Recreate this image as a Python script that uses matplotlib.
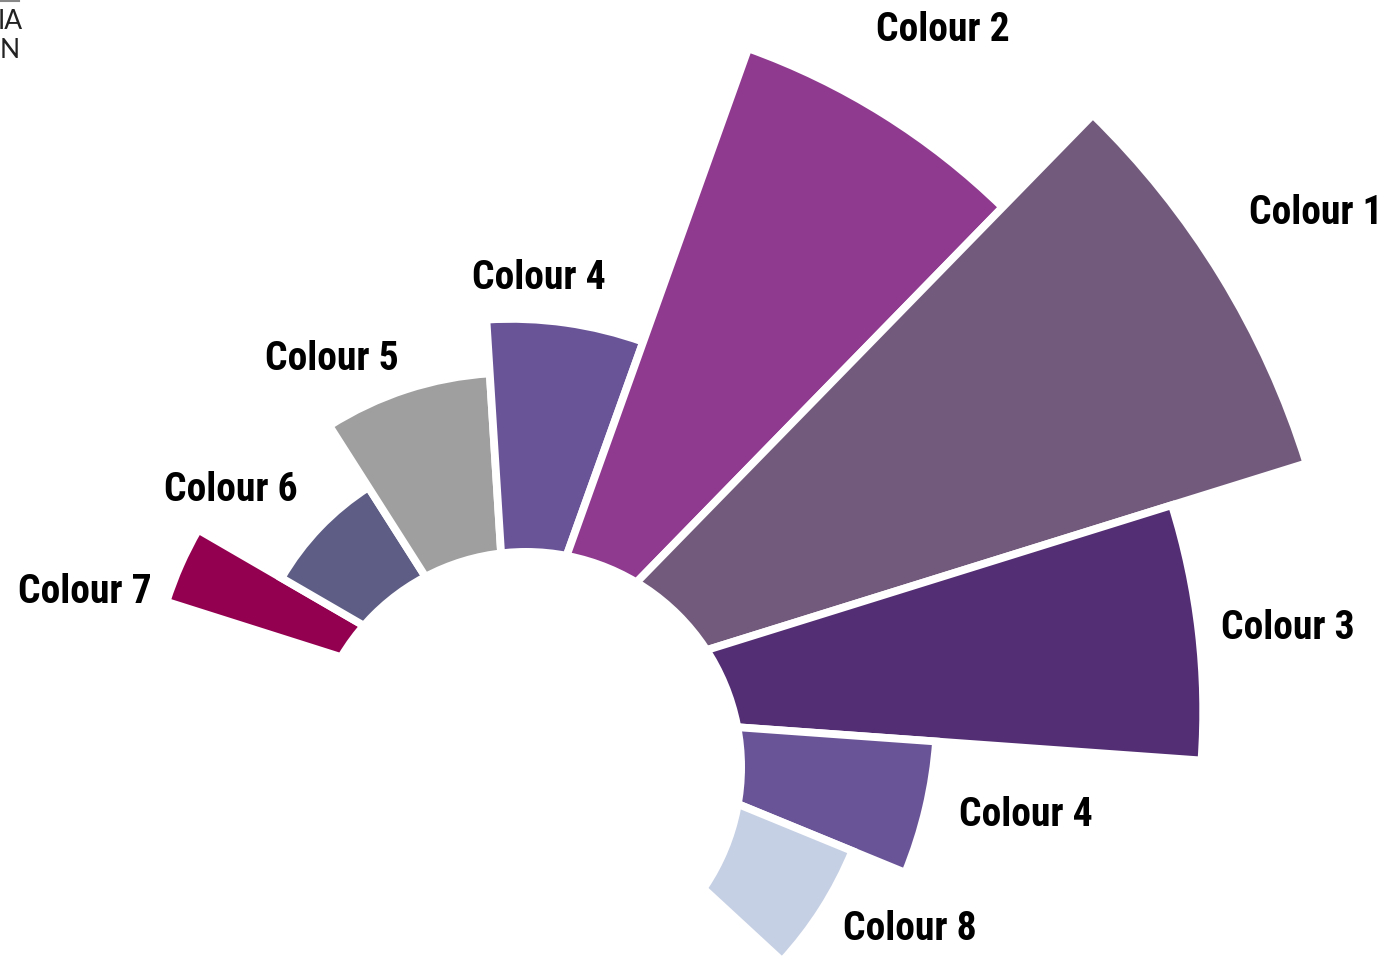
import math
import matplotlib.pyplot as plt
from matplotlib.patches import Wedge, Circle

# data: bar order from left (counter-clockwise end) to bottom right
labels = ["Colour 7", "Colour 6", "Colour 5", "Colour 4", "Colour 2",
          "Colour 1", "Colour 3", "Colour 4", "Colour 8"]
values = [43.6, 32.0, 40.8, 47.3, 84.9, 100.5, 83.5, 51.4, 44.5]
# angular boundaries between bars (degrees, counter-clockwise from east)
edges = [162.4, 149.9, 122.5, 93.6, 70.3, 45.7, 17.3, -4.1, -22.3, -42.7]
colors = ["#940050", "#5d5d85", "#9f9f9f", "#6a5498", "#8f3a8f",
          "#725a7c", "#532e74", "#6a5498", "#c6d0e4"]

# label anchor: (angle deg, distance px from centre)
label_pos = [(164, 443), (141.3, 359), (116.8, 398), (86.3, 437), (57.7, 809),
             (31.9, 948), (6.3, 782), (-11.1, 525), (-28.3, 453)]

W, H = 1391, 958
scale = 8.29          # px per value unit
cx, cy = 511, H - 711  # bar centre
hx, hy, hr = 526, H - 767, 219  # white hole

fig = plt.figure(figsize=(W / 100, H / 100), dpi=100)
ax = fig.add_axes([0, 0, 1, 1])
ax.set_xlim(0, W)
ax.set_ylim(0, H)
ax.axis("off")

for i, v in enumerate(values):
    t2, t1 = edges[i], edges[i + 1]
    ax.add_patch(Wedge((cx, cy), v * scale, t1, t2, facecolor=colors[i],
                       edgecolor="white", linewidth=5.6))
    ang, dist = label_pos[i]
    lx = cx + dist * math.cos(math.radians(ang))
    ly = cy + dist * math.sin(math.radians(ang)) - 3
    ax.text(lx, ly, labels[i], ha="center", va="center", fontsize=28.5,
            fontweight="bold", family=["Roboto Condensed", "DejaVu Sans"],
            color="black")

ax.add_patch(Circle((hx, hy), hr, facecolor="white", edgecolor="none", zorder=3))

# cut-off logo in the corner
ax.plot([0, 19], [H - 0.5, H - 0.5], color="#888888", linewidth=1.5)
ax.text(-2, H - 21, "IA", ha="left", va="center", fontsize=19,
        family=["Lato", "DejaVu Sans"], color="#222222")
ax.text(0, H - 50, "N", ha="left", va="center", fontsize=19,
        family=["Lato", "DejaVu Sans"], color="#222222")

fig.savefig("out.png", dpi=100)
